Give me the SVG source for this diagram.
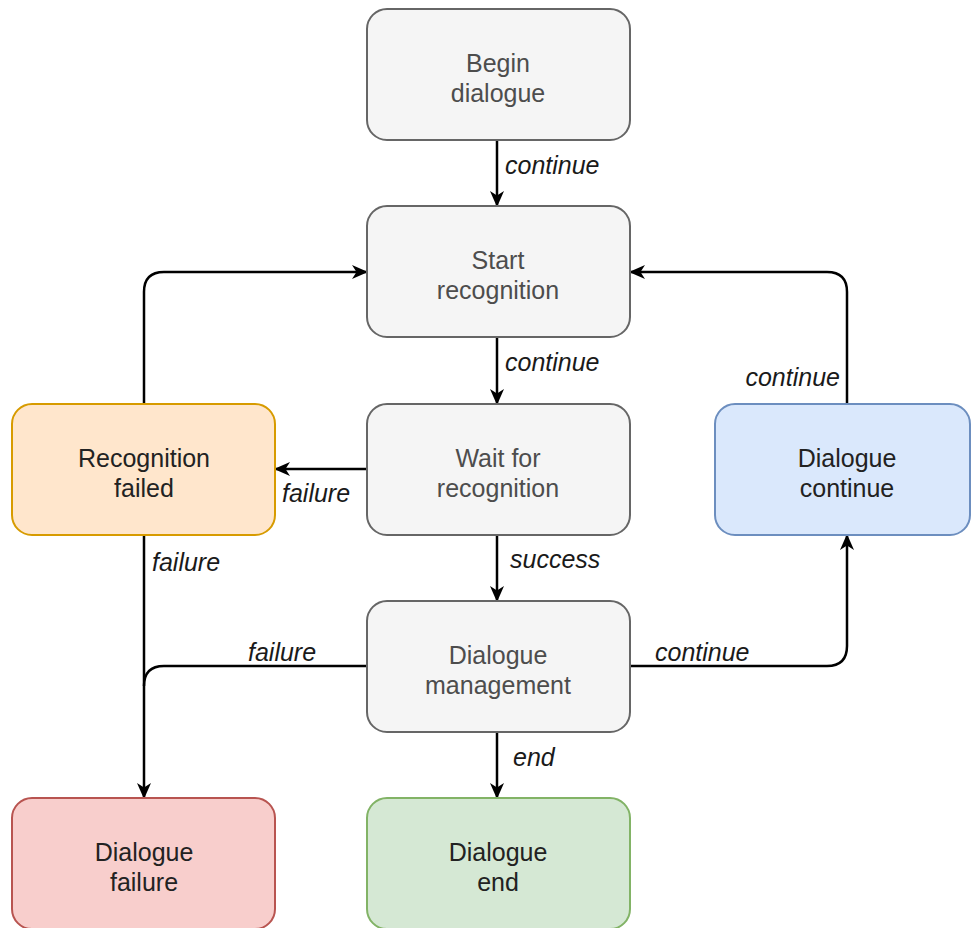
<svg xmlns="http://www.w3.org/2000/svg" width="971" height="928" viewBox="0 0 971 928">
  <defs>
    <style>
      .box { stroke-width: 2; }
      .gray { fill: #f5f5f5; stroke: #666666; }
      .orange { fill: #ffe6cc; stroke: #d79b00; }
      .blue { fill: #dae8fc; stroke: #6c8ebf; }
      .red { fill: #f8cecc; stroke: #b85450; }
      .green { fill: #d5e8d4; stroke: #82b366; }
      .txt { font-family: "Liberation Sans", Arial, sans-serif; font-size: 25px; text-anchor: middle; }
      .gtxt { fill: #4d4d4d; }
      .ctxt { fill: #222222; }
      .edge { fill: none; stroke: #000000; stroke-width: 2.5; }
      .lbl { font-family: "Liberation Sans", Arial, sans-serif; font-size: 25px; font-style: italic; fill: #1a1a1a; }
    </style>
    <!-- classic notched arrowhead, tip sits on the box border -->
    <marker id="arrow" viewBox="0 0 16 14" refX="15" refY="7" markerWidth="16" markerHeight="14" markerUnits="userSpaceOnUse" orient="auto">
      <path d="M0,0 L16,7 L0,14 L4.5,7 Z" fill="#000000"/>
    </marker>
  </defs>

  <!-- connectors -->
  <g id="edges">
    <path class="edge" d="M497,140 V206" marker-end="url(#arrow)"/>
    <path class="edge" d="M497,337 V404" marker-end="url(#arrow)"/>
    <path class="edge" d="M497,535 V601" marker-end="url(#arrow)"/>
    <path class="edge" d="M497,732 V798" marker-end="url(#arrow)"/>
    <path class="edge" d="M367,469 H275" marker-end="url(#arrow)"/>
    <path class="edge" d="M144,404 V292 Q144,272 164,272 H367" marker-end="url(#arrow)"/>
    <path class="edge" d="M847,404 V292 Q847,272 827,272 H630" marker-end="url(#arrow)"/>
    <path class="edge" d="M144,535 V798" marker-end="url(#arrow)"/>
    <path class="edge" d="M367,666 H164 Q144,666 144,686"/>
    <path class="edge" d="M630,666 H827 Q847,666 847,646 V535" marker-end="url(#arrow)"/>

    <text class="lbl" x="505" y="174">continue</text>
    <text class="lbl" x="505" y="371">continue</text>
    <text class="lbl" x="510" y="568">success</text>
    <text class="lbl" x="513" y="766">end</text>
    <text class="lbl" x="282" y="502">failure</text>
    <text class="lbl" x="152" y="571">failure</text>
    <text class="lbl" x="248" y="661">failure</text>
    <text class="lbl" x="655" y="661">continue</text>
    <text class="lbl" x="840" y="386" text-anchor="end">continue</text>
  </g>

  <!-- nodes -->
  <g id="begin-dialogue">
    <rect class="box gray" x="367" y="9" width="263" height="131" rx="20"/>
    <text class="txt gtxt" x="498" y="72">Begin</text>
    <text class="txt gtxt" x="498" y="102">dialogue</text>
  </g>
  <g id="start-recognition">
    <rect class="box gray" x="367" y="206" width="263" height="131" rx="20"/>
    <text class="txt gtxt" x="498" y="269">Start</text>
    <text class="txt gtxt" x="498" y="299">recognition</text>
  </g>
  <g id="wait-recognition">
    <rect class="box gray" x="367" y="404" width="263" height="131" rx="20"/>
    <text class="txt gtxt" x="498" y="467">Wait for</text>
    <text class="txt gtxt" x="498" y="497">recognition</text>
  </g>
  <g id="dialogue-management">
    <rect class="box gray" x="367" y="601" width="263" height="131" rx="20"/>
    <text class="txt gtxt" x="498" y="664">Dialogue</text>
    <text class="txt gtxt" x="498" y="694">management</text>
  </g>
  <g id="dialogue-end">
    <rect class="box green" x="367" y="798" width="263" height="131" rx="20"/>
    <text class="txt ctxt" x="498" y="861">Dialogue</text>
    <text class="txt ctxt" x="498" y="891">end</text>
  </g>
  <g id="recognition-failed">
    <rect class="box orange" x="12" y="404" width="263" height="131" rx="20"/>
    <text class="txt ctxt" x="144" y="467">Recognition</text>
    <text class="txt ctxt" x="144" y="497">failed</text>
  </g>
  <g id="dialogue-continue">
    <rect class="box blue" x="715" y="404" width="255" height="131" rx="20"/>
    <text class="txt ctxt" x="847" y="467">Dialogue</text>
    <text class="txt ctxt" x="847" y="497">continue</text>
  </g>
  <g id="dialogue-failure">
    <rect class="box red" x="12" y="798" width="263" height="131" rx="20"/>
    <text class="txt ctxt" x="144" y="861">Dialogue</text>
    <text class="txt ctxt" x="144" y="891">failure</text>
  </g>
</svg>
